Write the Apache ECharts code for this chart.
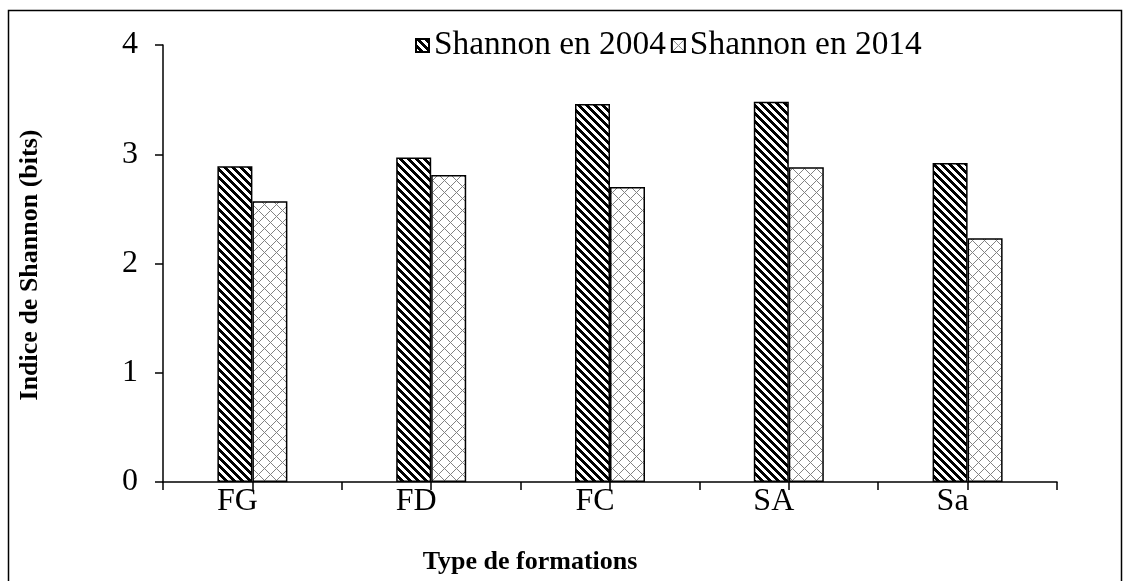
<!DOCTYPE html>
<html>
<head>
<meta charset="utf-8">
<script src="https://cdn.jsdelivr.net/npm/echarts@6/dist/echarts.min.js"></script>
<style>
html,body{margin:0;padding:0;background:#fff;}
#c{width:1123px;height:581px;}
</style>
</head>
<body>
<div id="c"></div>
<script>
const categories = ['FG', 'FD', 'FC', 'SA', 'Sa'];
const shannon2004 = [2.89, 2.97, 3.46, 3.48, 2.92];
const shannon2014 = [2.57, 2.81, 2.70, 2.88, 2.23];
const seriesNames = ['Shannon en 2004', 'Shannon en 2014'];
const yTitle = 'Indice de Shannon (bits)';
const xTitle = 'Type de formations';

// x axis is measured in half-category units: category i sits at 2*i+1,
// so the axis ticks fall on both category boundaries and category centres.
const slotOf = i => 2 * i + 1;
const data2004 = shannon2004.map((v, i) => [slotOf(i), v]);
const data2014 = shannon2014.map((v, i) => [slotOf(i), v]);

function stripePattern() {
  const n = 8;
  const cv = document.createElement('canvas');
  cv.width = n; cv.height = n;
  const ctx = cv.getContext('2d');
  const img = ctx.createImageData(n, n);
  for (let y = 0; y < n; y++) for (let x = 0; x < n; x++) {
    const d = ((x - y) % n + n) % n;
    const v = d < 4 ? 0 : 255;
    const i = (y * n + x) * 4;
    img.data[i] = v; img.data[i+1] = v; img.data[i+2] = v; img.data[i+3] = 255;
  }
  ctx.putImageData(img, 0, 0);
  return cv;
}
function crossPattern() {
  const n = 12;
  const cv = document.createElement('canvas');
  cv.width = n; cv.height = n;
  const ctx = cv.getContext('2d');
  const img = ctx.createImageData(n, n);
  for (let y = 0; y < n; y++) for (let x = 0; x < n; x++) {
    const a = ((x - y) % n + n) % n;
    const b = (x + y) % n;
    const v = (a === 0 || b === 0) ? 130 : 255;
    const i = (y * n + x) * 4;
    img.data[i] = v; img.data[i+1] = v; img.data[i+2] = v; img.data[i+3] = 255;
  }
  ctx.putImageData(img, 0, 0);
  return cv;
}

const font = '"Liberation Serif", "Times New Roman", serif';
const chart = echarts.init(document.getElementById('c'), null, {renderer: 'canvas'});
chart.setOption({
  animation: false,
  backgroundColor: '#fff',
  textStyle: {fontFamily: font, color: '#000'},
  legend: {
    left: 415, top: 29, padding: 0,
    itemWidth: 13, itemHeight: 13, itemGap: 5,
    icon: 'rect',
    textStyle: {fontFamily: font, fontSize: 33.4, color: '#000'},
    data: seriesNames
  },
  grid: {left: 163, right: 66, top: 45, bottom: 99},
  xAxis: {
    type: 'value', min: 0, max: 2 * categories.length, interval: 1,
    splitLine: {show: false},
    axisLine: {show: true, lineStyle: {color: '#000', width: 1.5}},
    axisTick: {show: true, length: 8, lineStyle: {color: '#000', width: 1.5}},
    axisLabel: {
      fontFamily: font, fontSize: 32, color: '#000', margin: 4, padding: [0, 30, 0, 0],
      showMinLabel: true, showMaxLabel: true,
      formatter: v => (v % 2 === 1 ? categories[(v - 1) / 2] : '')
    }
  },
  yAxis: {
    type: 'value', min: 0, max: 4, interval: 1,
    axisLine: {show: true, lineStyle: {color: '#000', width: 1.5}},
    axisTick: {show: true, length: 8, lineStyle: {color: '#000', width: 1.5}},
    splitLine: {show: false},
    axisLabel: {fontFamily: font, fontSize: 32, color: '#000', margin: 25}
  },
  series: [{
    name: seriesNames[0], type: 'bar', data: data2004,
    barWidth: 35, barGap: '0%',
    itemStyle: {color: {image: stripePattern(), repeat: 'repeat'}, borderColor: '#000', borderWidth: 1.5}
  }, {
    name: seriesNames[1], type: 'bar', data: data2014,
    barWidth: 35, barGap: '0%',
    itemStyle: {color: {image: crossPattern(), repeat: 'repeat'}, borderColor: '#000', borderWidth: 1.5}
  }],
  graphic: [{
    type: 'rect', left: 6, top: 8, silent: true,
    shape: {width: 1113, height: 590},
    style: {fill: 'none', stroke: '#000', lineWidth: 1.5}
  }, {
    type: 'text', x: 530, y: 562,
    style: {text: xTitle, font: 'bold 26px ' + font, fill: '#000', align: 'center', verticalAlign: 'middle'}
  }, {
    type: 'text', x: 30, y: 265, rotation: Math.PI / 2,
    style: {text: yTitle, font: 'bold 26px ' + font, fill: '#000', align: 'center', verticalAlign: 'middle'}
  }]
});
</script>
</body>
</html>
